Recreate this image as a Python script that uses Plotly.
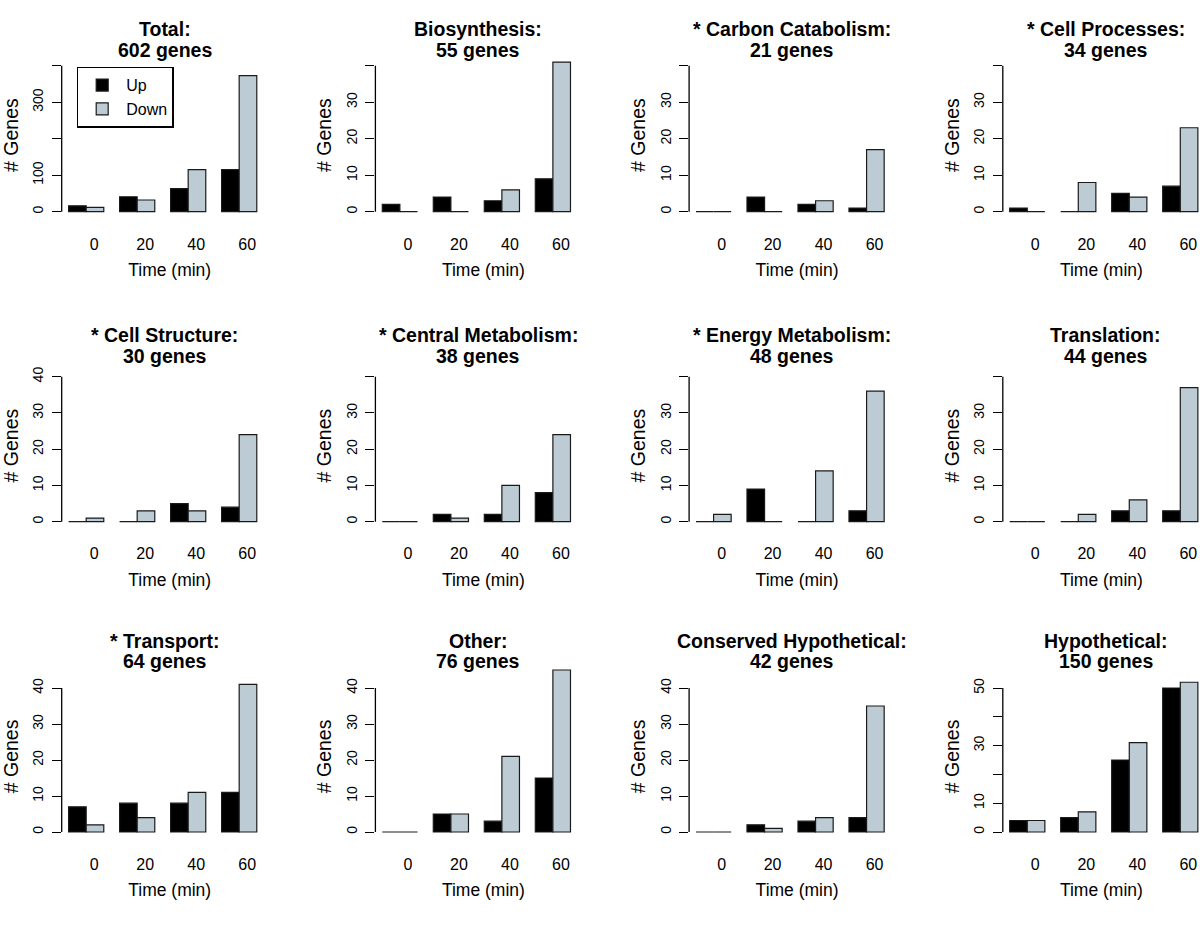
import plotly.graph_objects as go

# ---------------- data ----------------
times = ["0", "20", "40", "60"]

panel_names = ["Total", "Biosynthesis", "* Carbon Catabolism", "* Cell Processes",
               "* Cell Structure", "* Central Metabolism", "* Energy Metabolism", "Translation",
               "* Transport", "Other", "Conserved Hypothetical", "Hypothetical"]
gene_counts = [602, 55, 21, 34, 30, 38, 48, 44, 64, 76, 42, 150]

total_up = [16, 41, 63, 115]
total_down = [12, 32, 115, 373]
biosynthesis_up = [2, 4, 3, 9]
biosynthesis_down = [0, 0, 6, 41]
carbon_up = [0, 4, 2, 1]
carbon_down = [0, 0, 3, 17]
cellproc_up = [1, 0, 5, 7]
cellproc_down = [0, 8, 4, 23]
cellstruct_up = [0, 0, 5, 4]
cellstruct_down = [1, 3, 3, 24]
central_up = [0, 2, 2, 8]
central_down = [0, 1, 10, 24]
energy_up = [0, 9, 0, 3]
energy_down = [2, 0, 14, 36]
translation_up = [0, 0, 3, 3]
translation_down = [0, 2, 6, 37]
transport_up = [7, 8, 8, 11]
transport_down = [2, 4, 11, 41]
other_up = [0, 5, 3, 15]
other_down = [0, 5, 21, 45]
conshyp_up = [0, 2, 3, 4]
conshyp_down = [0, 1, 4, 35]
hyp_up = [4, 5, 25, 50]
hyp_down = [4, 7, 31, 52]

ticks_400 = [0, 100, 200, 300, 400]
labels_total = ["0", "100", "", "300", ""]
ticks_40 = [0, 10, 20, 30, 40]
labels_40_top_hidden = ["0", "10", "20", "30", ""]
labels_40_all = ["0", "10", "20", "30", "40"]
ticks_50 = [0, 10, 20, 30, 40, 50]
labels_hyp = ["0", "10", "", "30", "", "50"]

ups = [total_up, biosynthesis_up, carbon_up, cellproc_up, cellstruct_up, central_up,
       energy_up, translation_up, transport_up, other_up, conshyp_up, hyp_up]
downs = [total_down, biosynthesis_down, carbon_down, cellproc_down, cellstruct_down, central_down,
         energy_down, translation_down, transport_down, other_down, conshyp_down, hyp_down]
ytickvals = [ticks_400, ticks_40, ticks_40, ticks_40,
             ticks_40, ticks_40, ticks_40, ticks_40,
             ticks_40, ticks_40, ticks_40, ticks_50]
yticktexts = [labels_total, labels_40_top_hidden, labels_40_top_hidden, labels_40_top_hidden,
              labels_40_all, labels_40_top_hidden, labels_40_top_hidden, labels_40_top_hidden,
              labels_40_all, labels_40_all, labels_40_all, labels_hyp]

# ---------------- styling / geometry ----------------
# Positions are given in window pixels; the page margin is removed so the
# figure starts at the window's top-left corner.
W, Hfig = 1200, 900


def px_x(p):
    return p / W


def px_y(p):
    return 1 - p / Hfig


UP_COLOR = "#000000"
DOWN_COLOR = "#BDCCD4"
EDGE = "#1a1a1a"
FONT = "Liberation Sans, Arial, Helvetica, sans-serif"

X0 = 61.7          # window px position of first y-axis
DX = 313.7         # px between panel columns
PX_PER_CAT = 51.0  # px per category step
XPAD = 0.48        # category units left of first group
DOM_W = 216.0
ROW_BASE = [211.7, 521.7, 832.0]   # window px of zero line per row
ROW_H = [146.0, 145.0, 144.0]      # px from zero to top tick per row
TITLE_Y = [(29.0, 50.0), (335.0, 355.5), (640.5, 661.0)]

fig = go.Figure()
layout = dict(
    width=W, height=Hfig,
    margin=dict(l=0, r=0, t=0, b=0, autoexpand=False),
    paper_bgcolor="white", plot_bgcolor="rgba(0,0,0,0)",
    barmode="group", bargap=0.31, bargroupgap=0.0,
    font=dict(family=FONT, color="black"),
    showlegend=True,
    legend=dict(x=px_x(76.7), y=px_y(66.7), xanchor="left", yanchor="top",
                bgcolor="white", bordercolor="black", borderwidth=1.5,
                font=dict(size=16, family=FONT), traceorder="normal",
                tracegroupgap=0, itemwidth=38),
)
annotations = []
shapes = []

for i in range(12):
    r, c = divmod(i, 4)
    n = "" if i == 0 else str(i + 1)
    xa, ya = "x" + n, "y" + n
    fig.add_trace(go.Bar(x=times, y=ups[i], name="Up", xaxis=xa, yaxis=ya,
                         marker=dict(color=UP_COLOR, line=dict(color=EDGE, width=1.2)),
                         legendgroup="up", showlegend=(i == 0)))
    fig.add_trace(go.Bar(x=times, y=downs[i], name="Down", xaxis=xa, yaxis=ya,
                         marker=dict(color=DOWN_COLOR, line=dict(color=EDGE, width=1.2)),
                         legendgroup="down", showlegend=(i == 0)))

    left_px = X0 + c * DX
    width_px = min(DOM_W, W - left_px)
    layout["xaxis" + n] = dict(
        domain=[px_x(left_px), px_x(left_px + width_px)],
        range=[-XPAD, -XPAD + width_px / PX_PER_CAT],
        type="category", anchor=ya, automargin=False,
        showline=False, showgrid=False, zeroline=False,
        ticks="outside", ticklen=3, tickcolor="rgba(0,0,0,0)",
        tickfont=dict(size=16, family=FONT), ticklabelshift=8,
        title=dict(text="Time (min)", font=dict(size=17.5, family=FONT), standoff=12),
        fixedrange=True,
    )
    ymax = ytickvals[i][-1]
    base, hh = ROW_BASE[r], ROW_H[r]
    bottom_px = base + 0.1 * hh
    top_px = base - 1.15 * hh
    layout["yaxis" + n] = dict(
        domain=[px_y(bottom_px), px_y(top_px)],
        range=[-0.1 * ymax, 1.15 * ymax],
        anchor=xa, automargin=False,
        showline=False, showgrid=False, zeroline=False,
        ticks="outside", ticklen=9, tickwidth=1.3, tickcolor="black",
        tickmode="array", tickvals=ytickvals[i], ticktext=yticktexts[i],
        tickangle=-90, tickfont=dict(size=14, family=FONT), ticklabelstandoff=3,
        title=dict(text="# Genes", font=dict(size=19.5, family=FONT), standoff=6),
        fixedrange=True,
    )
    # y axis line spanning zero to the top tick, as in the original
    shapes.append(dict(type="line", xref="paper", yref=ya,
                       x0=px_x(left_px), x1=px_x(left_px), y0=0, y1=ymax,
                       line=dict(color="black", width=1.3)))

    cx = px_x(left_px + 103)
    annotations.append(dict(text="<b>" + panel_names[i] + ":</b>", xref="paper", yref="paper",
                            x=cx, y=px_y(TITLE_Y[r][0]), xanchor="center", yanchor="middle",
                            showarrow=False, font=dict(size=19.5, family=FONT)))
    annotations.append(dict(text="<b>" + str(gene_counts[i]) + " genes</b>", xref="paper", yref="paper",
                            x=cx, y=px_y(TITLE_Y[r][1]), xanchor="center", yanchor="middle",
                            showarrow=False, font=dict(size=19.5, family=FONT)))

layout["annotations"] = annotations
layout["shapes"] = shapes
fig.update_layout(**layout)
fig.write_html("out.html",
               config={"displayModeBar": False},
               post_script="document.body.style.margin='0';document.body.style.overflow='hidden';")
